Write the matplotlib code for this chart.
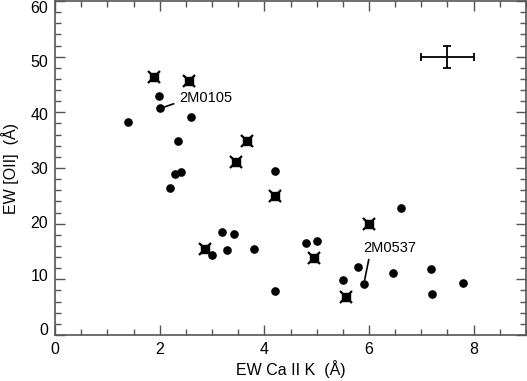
import matplotlib
matplotlib.use("Agg")
import matplotlib.pyplot as plt
from matplotlib.ticker import MultipleLocator
from matplotlib.transforms import ScaledTranslation

plt.rcParams['font.family'] = ['Liberation Sans', 'DejaVu Sans']

# Plain dots (EW Ca II K, EW [OII])
dot_x = [1.99, 2.01, 1.40, 2.60, 2.35, 4.21, 2.29, 2.40, 2.20, 3.20, 3.42, 3.00,
         3.28, 3.80, 4.21, 6.62, 4.80, 5.00, 5.79, 5.50, 5.90, 6.46, 7.19, 7.21, 7.79]
dot_y = [42.9, 40.7, 38.3, 39.2, 34.8, 29.5, 28.9, 29.3, 26.4, 18.5, 18.1, 14.3,
         15.2, 15.4, 7.9, 22.9, 16.5, 16.9, 12.2, 9.9, 9.1, 11.2, 11.8, 7.4, 9.3]

# Crossed points
cross_x = [1.90, 2.56, 3.66, 3.46, 4.21, 2.86, 6.00, 4.94, 5.56]
cross_y = [46.4, 45.7, 34.8, 31.0, 25.0, 15.4, 19.9, 13.9, 6.9]

# Representative error bar
err_x, err_y = 7.5, 50.0
err_xe, err_ye = 0.5, 2.0

# Labelled objects
lab_names = ['2M0105', '2M0537']
lab_pt = [(2.01, 40.7), (5.90, 9.1)]
lab_txt = [(2.37, 42.5), (5.89, 14.3)]

y_ticks = [0, 10, 20, 30, 40, 50, 60]
x_ticks = [0, 2, 4, 6, 8]

fig = plt.figure(figsize=(5.27, 3.81), dpi=100)
ax = fig.add_axes([55/527, 46/381, (526-55)/527, (335-1)/381])

ax.plot(dot_x, dot_y, 'o', color='black', ms=5.2, mec='black', zorder=3)
ax.plot(cross_x, cross_y, 's', color='black', ms=5.5, zorder=3)
ax.plot(cross_x, cross_y, 'x', color='black', ms=8.5, mew=1.6, zorder=3)

ax.errorbar([err_x], [err_y], xerr=[err_xe], yerr=[err_ye], fmt='none',
            ecolor='black', elinewidth=1.3, capsize=3, capthick=1.3)

# 2M0105
ax.annotate(lab_names[0], xy=lab_pt[0], xytext=lab_txt[0], fontsize=10.5,
            ha='left', va='center',
            arrowprops=dict(arrowstyle='-', color='black', lw=1.2,
                            shrinkA=2, shrinkB=3.5, relpos=(0, 0.25)))
# 2M0537
ax.annotate(lab_names[1], xy=lab_pt[1], xytext=lab_txt[1], fontsize=10.5,
            ha='left', va='bottom',
            arrowprops=dict(arrowstyle='-', color='black', lw=1.2,
                            shrinkA=1, shrinkB=3.5, relpos=(0.12, 0)))

ax.set_xlim(0, 9)
ax.set_ylim(0, 60)
ax.set_xticks(x_ticks)
ax.set_yticks(y_ticks)
ax.xaxis.set_minor_locator(MultipleLocator(0.5))
ax.yaxis.set_minor_locator(MultipleLocator(2))

spine_col = '#555555'
for s in ax.spines.values():
    s.set_color(spine_col)
    s.set_linewidth(1.2)

ax.tick_params(which='both', direction='in', top=True, right=True,
               color=spine_col, labelsize=11.5, width=1.0)
ax.tick_params(which='major', length=7, pad=5)
ax.tick_params(which='minor', length=4)

ax.set_xlabel('EW Ca II K  (Å)', fontsize=11.5, labelpad=2)
ax.set_ylabel('EW [OII]  (Å)', fontsize=11.5, labelpad=8)

fig.canvas.draw()
# reference y tick labels are spaced slightly tighter than the ticks
for k, t in enumerate(ax.yaxis.get_major_ticks()[:len(y_ticks)]):
    off_px = -6 + 2 * k  # positive = downward
    lab = t.label1
    lab.set_transform(lab.get_transform() +
                      ScaledTranslation(0, -off_px / 100, fig.dpi_scale_trans))

fig.savefig('out.png', dpi=100)
